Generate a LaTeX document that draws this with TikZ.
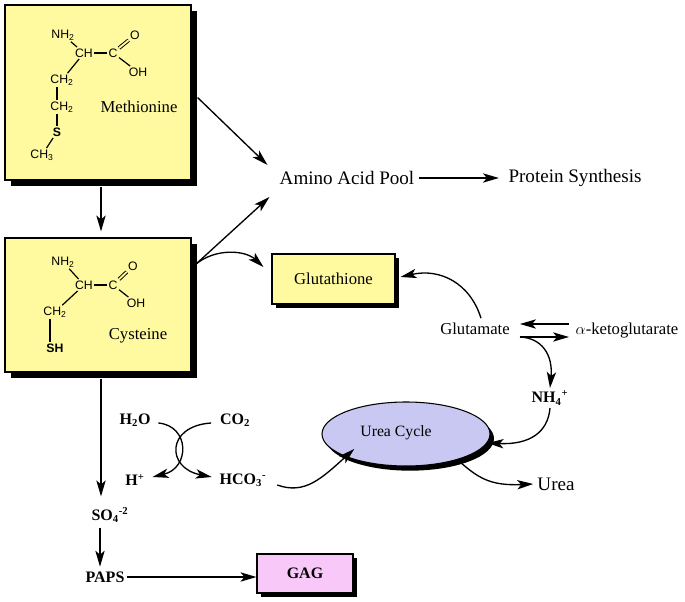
\documentclass[tikz,border=0pt]{standalone}
\usepackage{fontspec}
\setmainfont{Liberation Serif}
\newfontfamily\chemf{Liberation Sans}
\usetikzlibrary{arrows.meta,shadows,shapes.geometric,calc}
\definecolor{boxyellow}{RGB}{255,250,160}
\definecolor{gagpink}{RGB}{248,200,248}
\definecolor{urealav}{RGB}{200,200,242}
\begin{document}
\begin{tikzpicture}[x=0.75pt,y=-0.75pt,
  arr/.style={-{Stealth[length=12pt,width=7pt,inset=3pt]}, line width=1pt},
  ybox/.style={draw=black, line width=0.8pt, fill=boxyellow, inner sep=0pt,
    drop shadow={shadow xshift=4.5pt, shadow yshift=-4.5pt, fill=black, opacity=1}},
  sbox/.style={draw=black, line width=0.8pt, inner sep=0pt,
    drop shadow={shadow xshift=3pt, shadow yshift=-3pt, fill=black, opacity=1}},
  atom/.style={font=\chemf\fontsize{9.2}{10}\selectfont, inner sep=1pt},
  bond/.style={line width=0.9pt},
  dbond/.style={line width=0.7pt, double=boxyellow, double distance=1.4pt},
  lbl/.style={font=\fontsize{12.5}{14}\selectfont, inner sep=2pt},
  big/.style={font=\fontsize{14.3}{16}\selectfont, inner sep=3pt},
  bl/.style={font=\bfseries\fontsize{12}{14}\selectfont, inner sep=2pt}]
\useasboundingbox (0,0) rectangle (685,602);

% ---------- boxes ----------
\node[ybox, minimum width=139.5pt, minimum height=131.25pt] (meth) at (98,92.5) {};
\node[ybox, minimum width=139.5pt, minimum height=100.5pt] (cys) at (98,305) {};
\node[sbox, fill=boxyellow, minimum width=92.25pt, minimum height=37.5pt, font=\fontsize{12.5}{14}\selectfont] (glut) at (333.5,279) {Glutathione};
\node[sbox, fill=gagpink, minimum width=72pt, minimum height=29.25pt, font=\bfseries\fontsize{12}{14}\selectfont] (gag) at (305,573.5) {GAG};
\node[ellipse, draw=black, line width=0.8pt, fill=urealav, minimum width=126pt, minimum height=48pt,
  drop shadow={shadow xshift=3pt, shadow yshift=-3.5pt, fill=black, opacity=1}] (uc) at (406,434) {};
\node[font=\fontsize{11.8}{13}\selectfont] (ucl) at (396,433) {Urea Cycle};

% ---------- methionine structure ----------
\node[atom] (m_nh2) at (63,35) {NH\textsubscript{2}};
\node[atom] (m_ch) at (84,53) {CH};
\node[atom] (m_c) at (113,53) {C};
\node[atom] (m_o) at (135,35) {O};
\node[atom] (m_oh) at (138,72) {OH};
\node[atom] (m_ch2a) at (62,80) {CH\textsubscript{2}};
\node[atom] (m_ch2b) at (62,107) {CH\textsubscript{2}};
\node[atom, font=\chemf\bfseries\fontsize{9.2}{10}\selectfont] (m_s) at (57,132) {S};
\node[atom] (m_ch3) at (42,155) {CH\textsubscript{3}};
\node[lbl] (m_name) at (139,107) {Methionine};
\draw[bond] (m_nh2) -- (m_ch);
\draw[bond] (m_ch) -- (m_c);
\draw[dbond] (m_c) -- (m_o);
\draw[bond] (m_c) -- (m_oh);
\draw[bond] (m_ch) -- (m_ch2a);
\draw[bond] ($(m_ch2a.south)+(-5,0)$) -- ($(m_ch2b.north)+(-5,0)$);
\draw[bond] ($(m_ch2b.south)+(-5,0)$) -- (m_s.north);
\draw[bond] (m_s) -- (m_ch3);

% ---------- cysteine structure ----------
\node[atom] (c_nh2) at (63,262) {NH\textsubscript{2}};
\node[atom] (c_ch) at (84,285) {CH};
\node[atom] (c_c) at (113,285) {C};
\node[atom] (c_o) at (133,266) {O};
\node[atom] (c_oh) at (136,303) {OH};
\node[atom] (c_ch2) at (55,312) {CH\textsubscript{2}};
\node[atom, font=\chemf\bfseries\fontsize{9.2}{10}\selectfont] (c_sh) at (55,348) {SH};
\node[lbl] (c_name) at (138,336) {Cysteine};
\draw[bond] (c_nh2) -- (c_ch);
\draw[bond] (c_ch) -- (c_c);
\draw[dbond] (c_c) -- (c_o);
\draw[bond] (c_c) -- (c_oh);
\draw[bond] (c_ch) -- (c_ch2);
\draw[bond] ($(c_ch2.south)+(-5,0)$) -- ($(c_sh.north)+(-5,0)$);

% ---------- text nodes ----------
\node[big] (pool) at (347,178) {Amino Acid Pool};
\node[big] (prot) at (575,178) {Protein Synthesis};
\node[lbl] (glu) at (475,329) {Glutamate};
\node[lbl] (akg) at (627,331) {$\alpha$-ketoglutarate};
\node[bl] (nh4) at (550,398) {NH\textsubscript{4}\textsuperscript{+}};
\node[big] (urea) at (556,484) {Urea};
\node[bl] (h2o) at (135,420) {H\textsubscript{2}O};
\node[bl] (co2) at (235,420) {CO\textsubscript{2}};
\node[bl] (hp) at (135,480) {H\textsuperscript{+}};
\node[bl] (hco3) at (243,480) {HCO\textsubscript{3}\textsuperscript{-}};
\node[bl] (so4) at (110,515) {SO\textsubscript{4}\textsuperscript{-2}};
\node[bl] (paps) at (105,577) {PAPS};

% ---------- connectors ----------
\coordinate (gluR1) at (520,324);
\coordinate (akgL1) at (569,324);
\coordinate (gluR2) at (520,337);
\coordinate (akgL2) at (569,337);
\draw[arr] ($(meth.south)+(3,6)$) -- ($(cys.north)+(3,-6)$);
\draw[arr] ($(meth.east)+(6,5)$) -- ($(pool.west)+(-8,-13)$);
\coordinate (cysout) at ($(cys.north east)+(4,27)$);
\draw[arr] (cysout) -- ($(pool.west)+(-6,19)$);
\draw[arr] (cysout) .. controls (215,248) and (245,250) .. ($(glut.west)+(-8,-12)$);
\draw[arr] (pool.east) -- ([xshift=-4pt]prot.west);
\draw[arr] ($(glu.north)+(6,-2)$) .. controls (470,283) and (440,268) .. ($(glut.east)+(5,-2)$);
\draw[arr] (akgL1) -- (gluR1);
\draw[arr] (gluR2) .. controls (542,338) and (553,355) .. (nh4.north);
\draw[arr] (gluR2) -- (akgL2);
\draw[arr] (nh4.south) .. controls (548,432) and (530,445) .. ($(uc.east)+(-3,9)$);
\draw[arr] ($(uc.south east)+(-8,3)$) .. controls (478,478) and (490,486) .. (urea.west);
\draw[arr] ($(hco3.east)+(8,5)$) .. controls (305,495) and (322,478) .. ($(uc.south west)+(8,-8)$);
\draw[arr] ($(h2o.east)+(5,3)$) .. controls (190,426) and (190,468) .. ($(hp.east)+(5,-3)$);
\draw[arr] ($(co2.west)+(-6,3)$) .. controls (166,426) and (166,468) .. ($(hco3.west)+(-5,-3)$);
\draw[arr] ($(cys.south)+(3,6)$) -- ($(so4.north)+(-9,-8)$);
\draw[arr] ($(so4.south)+(-10,2)$) -- ($(paps.north)+(-5,-2)$);
\draw[arr] (paps.east) -- (paps.east -| gag.west);
\end{tikzpicture}
\end{document}
